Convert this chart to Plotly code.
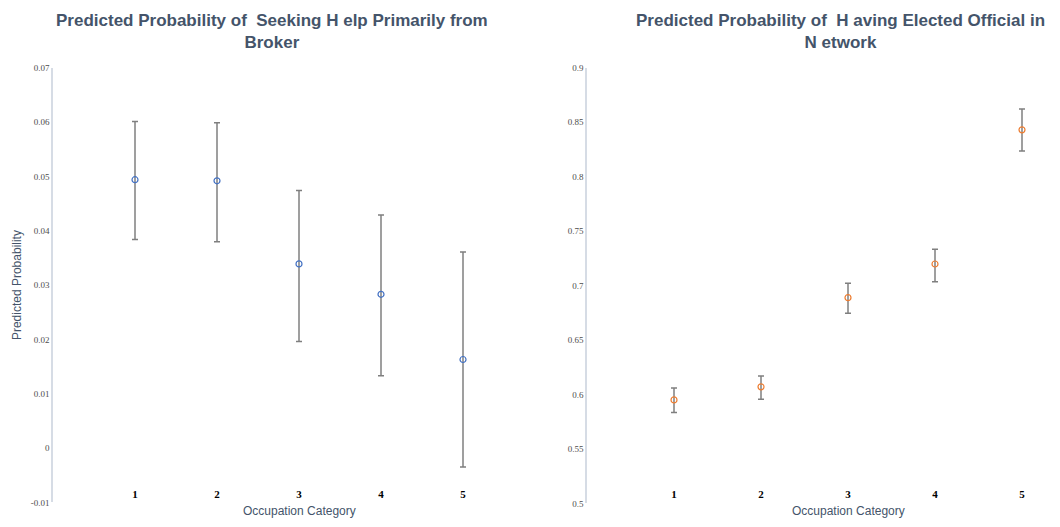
import plotly.graph_objects as go

# ---------------- data ----------------
categories = [1, 2, 3, 4, 5]
cat_labels = ["1", "2", "3", "4", "5"]

broker_prob = [0.0494, 0.0492, 0.0339, 0.0283, 0.0163]
broker_upper = [0.0601, 0.0599, 0.0474, 0.0429, 0.0361]
broker_lower = [0.0384, 0.0380, 0.0196, 0.0133, -0.0035]

official_prob = [0.5950, 0.6070, 0.6889, 0.7198, 0.8430]
official_upper = [0.6060, 0.6170, 0.7021, 0.7333, 0.8622]
official_lower = [0.5835, 0.5955, 0.6745, 0.7036, 0.8235]

left_ticks = [-0.01, 0, 0.01, 0.02, 0.03, 0.04, 0.05, 0.06, 0.07]
left_ticktext = ["-0.01", "0", "0.01", "0.02", "0.03", "0.04", "0.05", "0.06", "0.07"]
right_ticks = [0.5, 0.55, 0.6, 0.65, 0.7, 0.75, 0.8, 0.85, 0.9]
right_ticktext = ["0.5", "0.55", "0.6", "0.65", "0.7", "0.75", "0.8", "0.85", "0.9"]

title_left = "Predicted Probability of  Seeking H elp Primarily from<br>Broker"
title_right = "Predicted Probability of  H aving Elected Official in<br>N etwork"
x_title = "Occupation Category"
y_title = "Predicted Probability"

# ---------------- figure ----------------
W, H = 1060, 527
TXT = "#44546A"
ERR = "#7F7F7F"

def px_x(p):
    return p / W

def px_y(p):
    return 1 - p / H

fig = go.Figure()

fig.add_trace(go.Scatter(
    x=categories, y=broker_prob, mode="markers",
    marker=dict(symbol="circle-open", size=6, color="#4472C4", line=dict(width=1.2)),
    error_y=dict(type="data", symmetric=False,
                 array=[u - v for u, v in zip(broker_upper, broker_prob)],
                 arrayminus=[v - l for v, l in zip(broker_prob, broker_lower)],
                 color=ERR, thickness=1.5, width=3),
    xaxis="x", yaxis="y", showlegend=False,
))

fig.add_trace(go.Scatter(
    x=categories, y=official_prob, mode="markers",
    marker=dict(symbol="circle-open", size=6, color="#ED7D31", line=dict(width=1.2)),
    error_y=dict(type="data", symmetric=False,
                 array=[u - v for u, v in zip(official_upper, official_prob)],
                 arrayminus=[v - l for v, l in zip(official_prob, official_lower)],
                 color=ERR, thickness=1.5, width=3),
    xaxis="x2", yaxis="y2", showlegend=False,
))

xtickfont = dict(family="Liberation Serif", size=11, color="#000000", weight="bold")
ytickfont = dict(family="Liberation Serif", size=9, color="#4D4D4D")
axis_line = "#D6DCE5"

fig.update_layout(
    width=W, height=H,
    margin=dict(l=0, r=0, t=0, b=0),
    paper_bgcolor="white", plot_bgcolor="white",
    xaxis=dict(domain=[px_x(53), px_x(545)], range=[0, 6],
               anchor="free", position=px_y(490),
               tickvals=categories, ticktext=cat_labels, tickfont=xtickfont,
               showline=False, showgrid=False, zeroline=False, ticks=""),
    yaxis=dict(domain=[px_y(507), px_y(64)], range=[-0.01, 0.07], anchor="x",
               tickvals=left_ticks, ticktext=left_ticktext, tickfont=ytickfont,
               showline=True, linecolor=axis_line, linewidth=1.5,
               showgrid=False, zeroline=False, ticks="",
               title=dict(text=y_title, standoff=6,
                          font=dict(family="Liberation Sans", size=12, color=TXT))),
    xaxis2=dict(domain=[px_x(587), 1.0], range=[0, (1060 - 587) / 87],
                anchor="free", position=px_y(490),
                tickvals=categories, ticktext=cat_labels, tickfont=xtickfont,
                showline=False, showgrid=False, zeroline=False, ticks=""),
    yaxis2=dict(domain=[px_y(508), px_y(64)], range=[0.5, 0.9], anchor="x2",
                tickvals=right_ticks, ticktext=right_ticktext, tickfont=ytickfont,
                showline=True, linecolor=axis_line, linewidth=1.5,
                showgrid=False, zeroline=False, ticks=""),
)

title_font = dict(family="Liberation Sans", size=17, color=TXT, weight="bold")
axtitle_font = dict(family="Liberation Sans", size=12, color=TXT)

fig.add_annotation(text=title_left, xref="paper", yref="paper",
                   x=px_x(272), y=px_y(27), showarrow=False, font=title_font,
                   align="center", xanchor="center", yanchor="middle")
fig.add_annotation(text=title_right, xref="paper", yref="paper",
                   x=px_x(840), y=px_y(27), showarrow=False, font=title_font,
                   align="center", xanchor="center", yanchor="middle")
fig.add_annotation(text=x_title, xref="x", yref="paper", x=3, y=px_y(516),
                   showarrow=False, font=axtitle_font, xanchor="center", yanchor="middle")
fig.add_annotation(text=x_title, xref="x2", yref="paper", x=3, y=px_y(516),
                   showarrow=False, font=axtitle_font, xanchor="center", yanchor="middle")

fig.write_html("out.html")
